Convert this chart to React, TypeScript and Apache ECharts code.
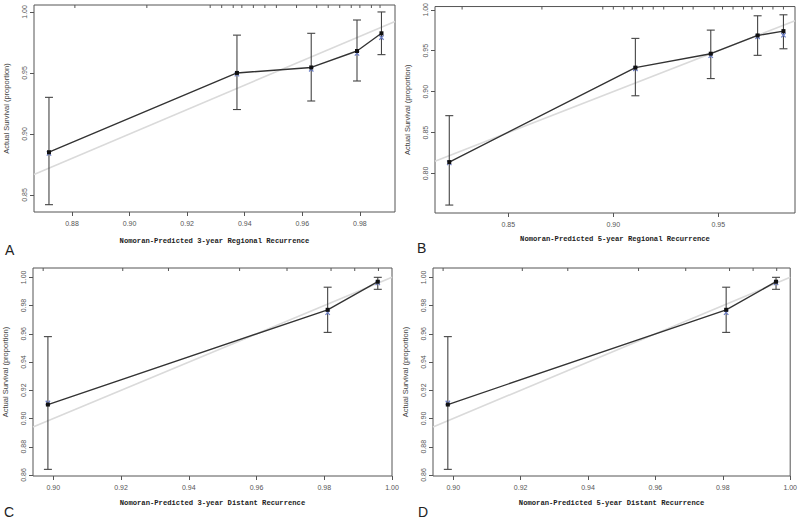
import React, { useEffect, useRef } from "react";
import * as echarts from "echarts";

// ---------- Panel A: 3-year Regional Recurrence ----------
const aPred = [0.872, 0.9373, 0.9631, 0.979, 0.9875];
const aObs = [0.885, 0.95, 0.9545, 0.968, 0.9825];
const aCorr = [0.884, 0.949, 0.953, 0.966, 0.979];
const aLow = [0.842, 0.92, 0.927, 0.9434, 0.965];
const aHigh = [0.93, 0.981, 0.9825, 0.9934, 1.0];
const aRug = [0.881, 0.906, 0.928, 0.932, 0.936, 0.939, 0.943, 0.947, 0.951, 0.958, 0.965, 0.969, 0.973, 0.977, 0.98, 0.984, 0.987];
const aXTicks = [0.88, 0.9, 0.92, 0.94, 0.96, 0.98];
const aYTicks = [0.85, 0.9, 0.95, 1.0];

// ---------- Panel B: 5-year Regional Recurrence ----------
const bPred = [0.8219, 0.9105, 0.9464, 0.9687, 0.981];
const bObs = [0.814, 0.9294, 0.9464, 0.9687, 0.974];
const bCorr = [0.813, 0.928, 0.944, 0.967, 0.969];
const bLow = [0.7615, 0.895, 0.916, 0.9444, 0.9524];
const bHigh = [0.8707, 0.9651, 0.9752, 0.9927, 0.9939];
const bRug = [0.828, 0.866, 0.895, 0.9, 0.905, 0.909, 0.914, 0.919, 0.924, 0.933, 0.938, 0.948, 0.952, 0.957, 0.962, 0.966, 0.971, 0.976, 0.981];
const bXTicks = [0.85, 0.9, 0.95];
const bYTicks = [0.8, 0.85, 0.9, 0.95, 1.0];

// ---------- Panel C: 3-year Distant Recurrence ----------
const cPred = [0.8984, 0.981, 0.9958];
const cObs = [0.9099, 0.977, 0.9969];
const cCorr = [0.911, 0.975, 0.996];
const cLow = [0.864, 0.961, 0.9915];
const cHigh = [0.958, 0.993, 1.0];
const cRug = [0.897, 0.9205, 0.934, 0.955, 0.969, 0.982, 0.989, 0.996];
const cXTicks = [0.9, 0.92, 0.94, 0.96, 0.98, 1.0];
const cYTicks = [0.86, 0.88, 0.9, 0.92, 0.94, 0.96, 0.98, 1.0];

// ---------- Panel D: 5-year Distant Recurrence ----------
const dPred = [0.8984, 0.981, 0.9958];
const dObs = [0.9099, 0.977, 0.9969];
const dCorr = [0.911, 0.975, 0.996];
const dLow = [0.864, 0.961, 0.9915];
const dHigh = [0.958, 0.993, 1.0];
const dRug = [0.897, 0.9205, 0.934, 0.955, 0.969, 0.982, 0.989, 0.996];
const dXTicks = [0.9, 0.92, 0.94, 0.96, 0.98, 1.0];
const dYTicks = [0.86, 0.88, 0.9, 0.92, 0.94, 0.96, 0.98, 1.0];

const xTitles = [
  "Nomoran-Predicted 3-year Regional Recurrence",
  "Nomoran-Predicted 5-year Regional Recurrence",
  "Nomoran-Predicted 3-year Distant Recurrence",
  "Nomoran-Predicted 5-year Distant Recurrence",
];
const yTitle = "Actual Survival (proportion)";
const panelLetters = ["A", "B", "C", "D"];

const panels = [
  { pred: aPred, obs: aObs, corr: aCorr, low: aLow, high: aHigh, rug: aRug, xt: aXTicks, yt: aYTicks, xr: [0.8668, 0.9922], yr: [0.836, 1.0057], grid: { left: 34, top: 5, width: 361, height: 207 }, nameGap: 25, letter: [5, 251] },
  { pred: bPred, obs: bObs, corr: bCorr, low: bLow, high: bHigh, rug: bRug, xt: bXTicks, yt: bYTicks, xr: [0.8151, 0.9865], yr: [0.7518, 1.004], grid: { left: 435, top: 5, width: 360, height: 208 }, nameGap: 22, letter: [417, 249] },
  { pred: cPred, obs: cObs, corr: cCorr, low: cLow, high: cHigh, rug: cRug, xt: cXTicks, yt: cYTicks, xr: [0.894, 1.0], yr: [0.8593, 1.0066], grid: { left: 33, top: 268, width: 359, height: 208 }, nameGap: 23, letter: [4, 513] },
  { pred: dPred, obs: dObs, corr: dCorr, low: dLow, high: dHigh, rug: dRug, xt: dXTicks, yt: dYTicks, xr: [0.894, 1.0], yr: [0.8593, 1.0066], grid: { left: 433, top: 268, width: 359, height: 208 }, nameGap: 23, letter: [418, 513] },
];

const MONO = '"Liberation Mono", "DejaVu Sans Mono", monospace';
const SANS = '"Liberation Sans", Arial, sans-serif';

export default function App() {
  const ref = useRef<HTMLDivElement>(null);
  useEffect(() => {
    document.body.style.margin = "0";
    const chart = echarts.init(ref.current!, null, { renderer: "svg" });
    const grid: any[] = [];
    const xAxis: any[] = [];
    const yAxis: any[] = [];
    const series: any[] = [];
    const graphic: any[] = [];

    panels.forEach((p, i) => {
      grid.push({ ...p.grid, show: true, borderColor: "#555", borderWidth: 1, containLabel: false });
      xAxis.push({
        type: "value",
        gridIndex: i,
        min: p.xr[0],
        max: p.xr[1],
        name: xTitles[i],
        nameLocation: "middle",
        nameGap: p.nameGap,
        nameTextStyle: { fontFamily: MONO, fontWeight: "bold", fontSize: 7.2, color: "#222" },
        axisLine: { show: false },
        splitLine: { show: false },
        axisTick: { show: true, inside: false, length: 4, lineStyle: { color: "#555" }, customValues: p.xt },
        axisLabel: { show: true, margin: 8, fontSize: 7, fontFamily: SANS, color: "#555", customValues: p.xt, formatter: (v: number) => v.toFixed(2) },
      });
      yAxis.push({
        type: "value",
        gridIndex: i,
        min: p.yr[0],
        max: p.yr[1],
        name: yTitle,
        nameLocation: "middle",
        nameGap: 24,
        nameTextStyle: { fontFamily: SANS, fontSize: 7.5, color: "#444" },
        axisLine: { show: false },
        splitLine: { show: false },
        axisTick: { show: true, inside: false, length: 4, lineStyle: { color: "#555" }, customValues: p.yt },
        axisLabel: { show: true, rotate: 90, margin: 6, fontSize: 7, fontFamily: SANS, color: "#555", customValues: p.yt, formatter: (v: number) => v.toFixed(2) },
      });

      // ideal y = x reference line
      series.push({
        type: "line",
        xAxisIndex: i,
        yAxisIndex: i,
        data: [[p.xr[0], p.xr[0]], [p.xr[1], p.xr[1]]],
        showSymbol: false,
        silent: true,
        lineStyle: { color: "#dadada", width: 1.6 },
        z: 1,
      });
      // rug ticks along the top
      const yTop = p.yr[1];
      series.push({
        type: "custom",
        xAxisIndex: i,
        yAxisIndex: i,
        data: p.rug.map((x) => [x, yTop]),
        renderItem: (params: any, api: any) => {
          const pt = api.coord([api.value(0), api.value(1)]);
          return {
            type: "line",
            shape: { x1: pt[0], y1: pt[1], x2: pt[0], y2: pt[1] + 3 },
            style: { stroke: "#555", lineWidth: 1 },
          };
        },
        z: 2,
      });
      // error bars
      series.push({
        type: "custom",
        xAxisIndex: i,
        yAxisIndex: i,
        data: p.pred.map((x, k) => [x, p.low[k], p.high[k]]),
        renderItem: (params: any, api: any) => {
          const lo = api.coord([api.value(0), api.value(1)]);
          const hi = api.coord([api.value(0), api.value(2)]);
          const w = 4;
          const st = { stroke: "#444", lineWidth: 1.1 };
          return {
            type: "group",
            children: [
              { type: "line", shape: { x1: lo[0], y1: lo[1], x2: hi[0], y2: hi[1] }, style: st },
              { type: "line", shape: { x1: lo[0] - w, y1: lo[1], x2: lo[0] + w, y2: lo[1] }, style: st },
              { type: "line", shape: { x1: hi[0] - w, y1: hi[1], x2: hi[0] + w, y2: hi[1] }, style: st },
            ],
          };
        },
        z: 3,
      });
      // corrected (blue crosses)
      series.push({
        type: "custom",
        xAxisIndex: i,
        yAxisIndex: i,
        data: p.pred.map((x, k) => [x, p.corr[k]]),
        renderItem: (params: any, api: any) => {
          const c = api.coord([api.value(0), api.value(1)]);
          const s = 2.2;
          const st = { stroke: "#6a7cc4", lineWidth: 1.2 };
          return {
            type: "group",
            children: [
              { type: "line", shape: { x1: c[0] - s, y1: c[1] - s, x2: c[0] + s, y2: c[1] + s }, style: st },
              { type: "line", shape: { x1: c[0] - s, y1: c[1] + s, x2: c[0] + s, y2: c[1] - s }, style: st },
            ],
          };
        },
        z: 4,
      });
      // observed line
      series.push({
        type: "line",
        xAxisIndex: i,
        yAxisIndex: i,
        data: p.pred.map((x, k) => [x, p.obs[k]]),
        symbol: "rect",
        symbolSize: 4,
        showSymbol: true,
        itemStyle: { color: "#111" },
        lineStyle: { color: "#333", width: 1.4 },
        z: 5,
      });

      graphic.push({
        type: "text",
        left: p.letter[0],
        top: p.letter[1] - 8,
        style: { text: panelLetters[i], font: `14px ${SANS}`, fill: "#222" },
      });
    });

    chart.setOption({
      animation: false,
      backgroundColor: "#fff",
      grid,
      xAxis,
      yAxis,
      series,
      graphic,
    });
    return () => chart.dispose();
  }, []);
  return <div ref={ref} style={{ width: 800, height: 525 }} />;
}
